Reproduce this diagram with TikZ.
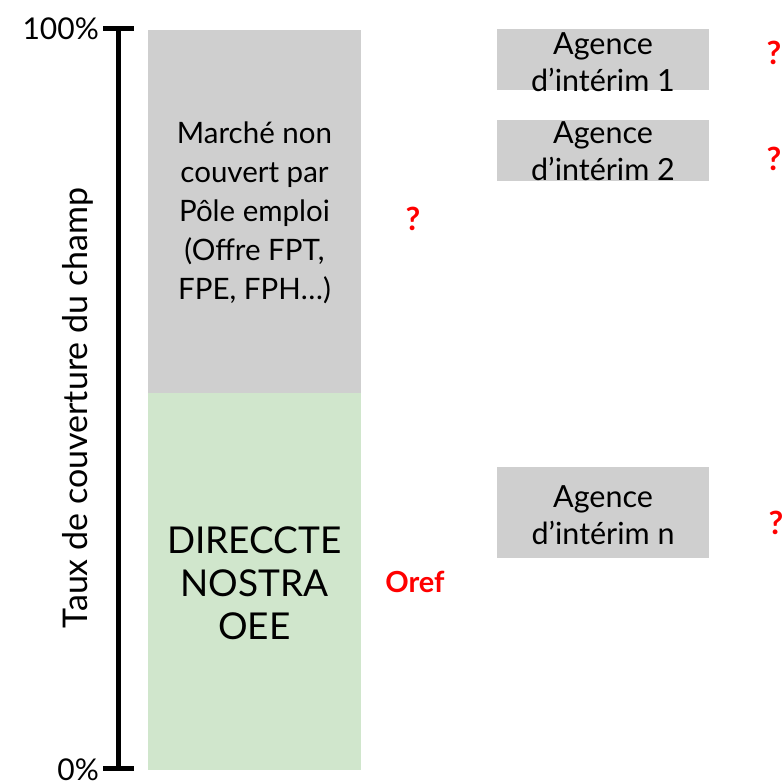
\documentclass[tikz,border=0pt]{standalone}
\usepackage{fontspec}
\setmainfont{Lato}
\definecolor{boxgray}{HTML}{CFCFCF}
\definecolor{boxgreen}{HTML}{D0E6CC}
\definecolor{qred}{HTML}{FF0000}
\begin{document}
\begin{tikzpicture}[x=1pt,y=-1pt,
  txt/.style={inner sep=0pt, align=center, font=\fontsize{29.5}{39}\selectfont},
  bigtxt/.style={inner sep=0pt, align=center, font=\fontsize{37}{43}\selectfont},
  agtxt/.style={inner sep=0pt, align=center, font=\fontsize{30.5}{37}\selectfont},
  qmark/.style={inner sep=0pt, text=qred, font=\fontsize{32}{32}\selectfont\bfseries},
  axis/.style={line width=5pt}]
\useasboundingbox (0,0) rectangle (784,782);
% columns
\fill[boxgray] (148,30) rectangle (361,393);
\fill[boxgreen] (148,393) rectangle (361,770);
\node[txt] (gtxt) at (254.5,213) {Marché non\\couvert par\\Pôle emploi\\(Offre FPT,\\FPE, FPH\ldots)};
\node[bigtxt] (rtxt) at (254.5,583) {DIRECCTE\\NOSTRA\\OEE};
% axis
\coordinate (top) at (118,28);
\coordinate (bot) at (118,768);
\draw[axis] (top) -- (bot);
\draw[axis] (103,28) -- (134,28);
\draw[axis] (103,768) -- (134,768);
\node[inner sep=0pt, anchor=east, font=\fontsize{30}{30}\selectfont] (l100) at (99,29) {100\%};
\node[inner sep=0pt, anchor=east, font=\fontsize{30}{30}\selectfont] (l0) at (99,770) {0\%};
\node[inner sep=0pt, rotate=90, font=\fontsize{34}{34}\selectfont] (axlab) at (78,408) {Taux de couverture du champ};
% agencies
\fill[boxgray] (497,29) rectangle (709,90);
\fill[boxgray] (497,120) rectangle (709,181);
\fill[boxgray] (497,467) rectangle (709,558);
\node[agtxt] (a1) at (603,62) {Agence\\d’intérim 1};
\node[agtxt] (a2) at (603,151) {Agence\\d’intérim 2};
\node[agtxt] (an) at (603,515) {Agence\\d’intérim n};
% marks
\node[qmark] (q1) at (774,53) {?};
\node[qmark] (q2) at (774,159) {?};
\node[qmark] (q3) at (413,219) {?};
\node[qmark] (qn) at (776,523) {?};
\node[inner sep=0pt, text=qred, font=\fontsize{29}{29}\selectfont\bfseries] (oref) at (415,582) {Oref};
\end{tikzpicture}
\end{document}
